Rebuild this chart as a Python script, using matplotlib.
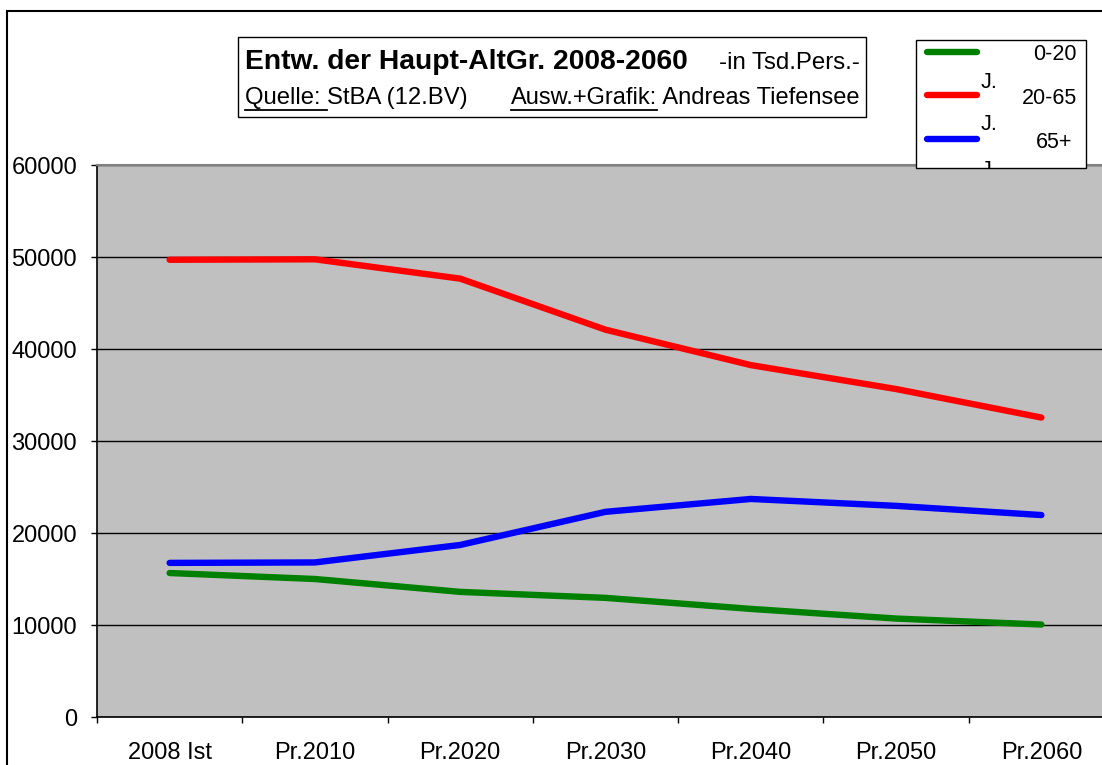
import matplotlib
matplotlib.use("Agg")
import matplotlib.pyplot as plt
from matplotlib.patches import Rectangle
from matplotlib.lines import Line2D

plt.rcParams['font.family'] = ['Liberation Sans', 'DejaVu Sans']

categories = ["2008 Ist", "Pr.2010", "Pr.2020", "Pr.2030", "Pr.2040", "Pr.2050", "Pr.2060"]
age_0_20 = [15650, 15000, 13600, 12950, 11750, 10700, 10050]
age_20_65 = [49700, 49750, 47650, 42100, 38250, 35650, 32550]
age_65p = [16750, 16800, 18700, 22300, 23700, 22950, 21950]
yticks = [0, 10000, 20000, 30000, 40000, 50000, 60000]
series_labels = ["0-20", "20-65", "65+"]
colors = ["#008000", "#FF0000", "#0000FF"]

W, H = 1102, 765
fig = plt.figure(figsize=(W / 100, H / 100), dpi=100)

def fx(x):
    return x / W

def fy(y):
    return 1 - y / H

# outer chart-area border (cropped at right and bottom)
fig.add_artist(Rectangle((fx(7), fy(900)), fx(1300), fy(11) - fy(900),
                         transform=fig.transFigure, fill=False,
                         edgecolor="black", linewidth=1.5))

ax = fig.add_axes([fx(97), fy(717), fx(1114) - fx(97), fy(165) - fy(717)])
ax.set_facecolor("#C0C0C0")
x = list(range(len(categories)))
for vals, c in zip([age_0_20, age_20_65, age_65p], colors):
    ax.plot(x, vals, color=c, linewidth=4.6, solid_capstyle="round",
            solid_joinstyle="miter", zorder=3)

ax.set_xlim(-0.5, len(categories) - 0.5)
ax.set_ylim(0, 60000)
ax.set_yticks(yticks)
ax.set_yticklabels([str(v) for v in yticks], fontsize=17)
ax.yaxis.grid(True, color="black", linewidth=1.0)
ax.set_axisbelow(True)
ax.tick_params(axis="y", direction="out", length=4.3, width=1, pad=10)
ax.set_xticks(x)
ax.set_xticklabels(categories, fontsize=17)
ax.set_xticks([i - 0.5 for i in range(len(categories) + 1)], minor=True)
ax.tick_params(axis="x", which="major", length=0, pad=18)
ax.tick_params(axis="x", which="minor", direction="out", length=4.3, width=1)
for s in ["left", "bottom"]:
    ax.spines[s].set_color("black")
    ax.spines[s].set_linewidth(1.2)
ax.spines["top"].set_color("#808080")
ax.spines["top"].set_linewidth(1.5)
ax.spines["right"].set_visible(False)

# title box
fig.add_artist(Rectangle((fx(238), fy(117)), fx(866) - fx(238), fy(37) - fy(117),
                         transform=fig.transFigure, facecolor="white",
                         edgecolor="black", linewidth=1.0, zorder=5))
fig.text(fx(245), fy(62), "Entw. der Haupt-AltGr. 2008-2060", fontsize=20.3,
         fontweight="bold", va="center", ha="left", zorder=6)
fig.text(fx(860), fy(63), "-in Tsd.Pers.-", fontsize=17.3, va="center", ha="right", zorder=6)

fig.canvas.draw()
renderer = fig.canvas.get_renderer()

def text_run(xpix, ypix, parts, size):
    xcur = xpix
    for s, underline in parts:
        t = fig.text(fx(xcur), fy(ypix), s, fontsize=size, va="center", ha="left", zorder=6)
        bb = t.get_window_extent(renderer=renderer)
        if underline:
            fig.add_artist(Line2D([bb.x0 / W, bb.x1 / W], [fy(ypix + 12), fy(ypix + 12)],
                                  transform=fig.transFigure, color="black",
                                  linewidth=1.3, zorder=6))
        xcur += bb.width

text_run(245, 98, [("Quelle: ", True), ("StBA (12.BV)", False)], 17.2)
text_run(511, 98, [("Ausw.+Grafik:", True), (" Andreas Tiefensee", False)], 17)

# legend box
leg_rect = Rectangle((fx(916), fy(168)), fx(1086) - fx(916), fy(40) - fy(168),
                     transform=fig.transFigure, facecolor="white",
                     edgecolor="black", linewidth=1.0, zorder=5)
fig.add_artist(leg_rect)
for yy, c, lab, lx in zip([52, 95, 139], colors, series_labels, [1077, 1077, 1072]):
    fig.add_artist(Line2D([fx(927), fx(977)], [fy(yy), fy(yy)], transform=fig.transFigure,
                          color=c, linewidth=4.6, solid_capstyle="round", zorder=6))
    fig.text(fx(lx), fy(yy + 3), lab, fontsize=15.5, ha="right", va="center", zorder=6)
for yy in [82, 124, 171]:
    t = fig.text(fx(981), fy(yy), "J.", fontsize=15.5, ha="left", va="center", zorder=6)
    t.set_clip_path(leg_rect)

fig.savefig("out.png", dpi=100)
